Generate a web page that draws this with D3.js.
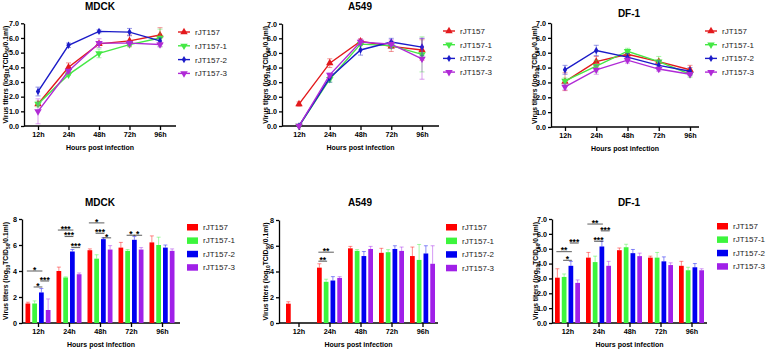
<!DOCTYPE html>
<html>
<head>
<meta charset="utf-8">
<script src="https://cdn.jsdelivr.net/npm/d3@7"></script>
<style>
body { margin: 0; background: #fff; }
text { font-family: "Liberation Sans", Arial, sans-serif; }
</style>
</head>
<body>
<div id="chart-area"></div>
<script>
// ---- data ----
var cats = ["12h", "24h", "48h", "72h", "96h"];
var seriesNames = ["rJT157", "rJT157-1", "rJT157-2", "rJT157-3"];

// rows follow seriesNames, columns follow cats
var mdckMeans = [
    [1.5, 4.0, 5.6, 5.8, 6.2],
    [1.5, 3.5, 4.95, 5.55, 6.0],
    [2.35, 5.5, 6.45, 6.4, 5.8],
    [1.0, 3.75, 5.65, 5.65, 5.55]
];
var mdckErrs = [
    [0.1, 0.3, 0.1, 0.4, 0.5],
    [0.2, 0.05, 0.3, 0.1, 0.6],
    [0.3, 0.15, 0.1, 0.25, 0.2],
    [0.85, 0.1, 0.3, 0.15, 0.15]
];
var a549Means = [
    [1.5, 4.3, 5.8, 5.45, 5.2],
    [0, 3.2, 5.6, 5.5, 4.9],
    [0, 3.3, 5.2, 5.75, 5.4],
    [0, 3.5, 5.75, 5.6, 4.6]
];
var a549Errs = [
    [0.15, 0.3, 0.15, 0.35, 0.7],
    [0, 0.2, 0.1, 0.2, 1.2],
    [0, 0.3, 0.35, 0.25, 0.6],
    [0, 0.1, 0.2, 0.3, 1.4]
];
var df1Means = [
    [3.05, 4.4, 4.9, 4.4, 3.85],
    [3.1, 4.1, 5.1, 4.4, 3.55],
    [3.85, 5.15, 4.7, 4.15, 3.75],
    [2.7, 3.85, 4.5, 3.9, 3.55]
];
var df1Errs = [
    [0.6, 0.35, 0.15, 0.1, 0.3],
    [0.2, 0.4, 0.2, 0.35, 0.2],
    [0.3, 0.35, 0.25, 0.3, 0.25],
    [0.2, 0.3, 0.2, 0.15, 0.1]
];

var ticks7 = [0, 1, 2, 3, 4, 5, 6, 7];
var ticks8 = [0, 2, 4, 6, 8];

// significance brackets: series a -> series b at a given titer
var mdckSig = [
    {cat: "12h", a: 0, b: 2, y: 4.0, label: "*"},
    {cat: "12h", a: 1, b: 2, y: 2.77, label: "*"},
    {cat: "12h", a: 2, b: 3, y: 3.23, label: "***"},
    {cat: "24h", a: 0, b: 2, y: 7.15, label: "***"},
    {cat: "24h", a: 1, b: 2, y: 6.65, label: "***"},
    {cat: "24h", a: 2, b: 3, y: 5.8, label: "***"},
    {cat: "48h", a: 0, b: 2, y: 7.7, label: "*"},
    {cat: "48h", a: 1, b: 2, y: 6.9, label: "***"},
    {cat: "48h", a: 2, b: 3, y: 6.55, label: "*"},
    {cat: "72h", a: 1, b: 2, y: 6.75, label: "*"},
    {cat: "72h", a: 2, b: 3, y: 6.75, label: "*"}
];
var a549Sig = [
    {cat: "24h", a: 0, b: 2, y: 5.5, label: "**"},
    {cat: "24h", a: 0, b: 1, y: 4.8, label: "**"}
];
var df1Sig = [
    {cat: "12h", a: 0, b: 2, y: 4.8, label: "**"},
    {cat: "12h", a: 1, b: 2, y: 4.22, label: "*"},
    {cat: "12h", a: 2, b: 3, y: 5.38, label: "***"},
    {cat: "24h", a: 0, b: 2, y: 6.66, label: "**"},
    {cat: "24h", a: 2, b: 3, y: 6.2, label: "***"},
    {cat: "24h", a: 1, b: 2, y: 5.5, label: "***"}
];

// ---- styles ----
var lineColors = ["#e3191c", "#45e845", "#1b1bc8", "#b02ad6"];
var barColors = ["#ff0000", "#3cf53c", "#0000f0", "#a020e8"];
var markerTypes = [d3.symbolTriangle, d3.symbolTriangle, d3.symbolDiamond, d3.symbolTriangle];
var markerRot = [0, 180, 0, 180];

var svg = d3.select("#chart-area").append("svg")
    .attr("width", 768)
    .attr("height", 352);

function yLabel(g, x, y) {
    var t = g.append("text")
        .attr("transform", "translate(" + x + "," + y + ") rotate(-90)")
        .attr("text-anchor", "middle")
        .attr("font-size", "6.8px")
        .attr("font-weight", "bold");
    t.append("tspan").text("Virus titers (log");
    t.append("tspan").attr("font-size", "4.8px").attr("dy", 1.5).text("10");
    t.append("tspan").attr("dy", -1.5).text("TCID");
    t.append("tspan").attr("font-size", "4.8px").attr("dy", 1.5).text("50");
    t.append("tspan").attr("dy", -1.5).text("/0.1ml)");
}

function drawFrame(p, yMax, tickVals) {
    var g = svg.append("g");
    var x = d3.scalePoint().domain(cats).range([p.first, p.last]);
    var y = d3.scaleLinear().domain([0, yMax]).range([p.yBot, p.yTop]);

    var yAxis = g.append("g")
        .attr("transform", "translate(" + p.x0 + ",0)")
        .call(d3.axisLeft(y).tickValues(tickVals).tickSize(3).tickSizeOuter(0).tickPadding(2));
    var xAxis = g.append("g")
        .attr("transform", "translate(0," + p.yBot + ")")
        .call(d3.axisBottom(x).tickSize(4).tickPadding(2));
    xAxis.select(".domain").remove();
    g.append("line")
        .attr("x1", p.x0).attr("x2", p.x1)
        .attr("y1", p.yBot).attr("y2", p.yBot)
        .attr("stroke", "#000").attr("stroke-width", 1.4);
    [yAxis, xAxis].forEach(function (a) {
        a.selectAll("path,line").attr("stroke", "#000").attr("stroke-width", 1.3);
        a.selectAll("text")
            .attr("font-size", "7.2px")
            .attr("font-weight", "bold")
            .attr("fill", "#000")
            .attr("font-family", "Liberation Sans, Arial, sans-serif");
    });

    g.append("text")
        .attr("x", p.titleX).attr("y", p.titleY)
        .attr("text-anchor", "middle")
        .attr("font-size", "10px")
        .attr("font-weight", "bold")
        .text(p.title);
    g.append("text")
        .attr("x", (p.x0 + p.x1) / 2).attr("y", p.xLabY)
        .attr("text-anchor", "middle")
        .attr("font-size", "7px")
        .attr("font-weight", "bold")
        .text("Hours post infection");
    yLabel(g, p.yLabX, (p.yTop + p.yBot) / 2);
    return {g: g, x: x, y: y};
}

function linePanel(p, means, errs) {
    var f = drawFrame(p, 7, ticks7);
    var g = f.g, x = f.x, y = f.y;
    var line = d3.line()
        .x(function (d, i) { return x(cats[i]); })
        .y(function (d) { return y(d); });

    means.forEach(function (row, s) {
        var col = lineColors[s];
        // error bars
        row.forEach(function (v, i) {
            var e = errs[s][i];
            if (e <= 0) return;
            var cx = x(cats[i]);
            g.append("line")
                .attr("x1", cx).attr("x2", cx)
                .attr("y1", y(v - e)).attr("y2", y(v + e))
                .attr("stroke", col).attr("stroke-opacity", 0.45).attr("stroke-width", 1);
            [v - e, v + e].forEach(function (w) {
                g.append("line")
                    .attr("x1", cx - 2.5).attr("x2", cx + 2.5)
                    .attr("y1", y(w)).attr("y2", y(w))
                    .attr("stroke", col).attr("stroke-opacity", 0.45).attr("stroke-width", 1);
            });
        });
        g.append("path")
            .datum(row)
            .attr("d", line)
            .attr("fill", "none")
            .attr("stroke", col)
            .attr("stroke-width", 1.4);
        g.selectAll(".m" + s)
            .data(row)
            .enter()
            .append("path")
            .attr("transform", function (d, i) {
                return "translate(" + x(cats[i]) + "," + y(d) + ") rotate(" + markerRot[s] + ")";
            })
            .attr("d", d3.symbol().type(markerTypes[s]).size(s == 2 ? 16 : 24))
            .attr("fill", col);
    });

    // legend
    seriesNames.forEach(function (n, s) {
        var ly = p.legY + s * p.legStep;
        g.append("line")
            .attr("x1", p.legX).attr("x2", p.legX + 12)
            .attr("y1", ly).attr("y2", ly)
            .attr("stroke", lineColors[s]).attr("stroke-width", 1.4);
        g.append("path")
            .attr("transform", "translate(" + (p.legX + 6) + "," + ly + ") rotate(" + markerRot[s] + ")")
            .attr("d", d3.symbol().type(markerTypes[s]).size(s == 2 ? 16 : 24))
            .attr("fill", lineColors[s]);
        g.append("text")
            .attr("x", p.legX + 17).attr("y", ly + 3)
            .attr("font-size", "8px")
            .attr("fill", "#222")
            .text(n);
    });
}

function barPanel(p, yMax, tickVals, means, errs, sig) {
    var f = drawFrame(p, yMax, tickVals);
    var g = f.g, x = f.x, y = f.y;
    var xs = d3.scaleBand().domain(seriesNames).range([-12.5, 12.5]).paddingInner(0.3);
    var bw = xs.bandwidth();

    means.forEach(function (row, s) {
        var col = barColors[s];
        g.selectAll(".b" + s)
            .data(row)
            .enter()
            .append("rect")
            .attr("x", function (d, i) { return x(cats[i]) + xs(seriesNames[s]); })
            .attr("y", function (d) { return y(d); })
            .attr("width", bw)
            .attr("height", function (d) { return p.yBot - y(d); })
            .attr("fill", col);
        row.forEach(function (v, i) {
            var e = errs[s][i];
            if (e <= 0 || v <= 0) return;
            var cx = x(cats[i]) + xs(seriesNames[s]) + bw / 2;
            g.append("line")
                .attr("x1", cx).attr("x2", cx)
                .attr("y1", y(v)).attr("y2", y(v + e))
                .attr("stroke", col).attr("stroke-opacity", 0.45).attr("stroke-width", 1);
            g.append("line")
                .attr("x1", cx - 2).attr("x2", cx + 2)
                .attr("y1", y(v + e)).attr("y2", y(v + e))
                .attr("stroke", col).attr("stroke-opacity", 0.45).attr("stroke-width", 1);
        });
    });

    // significance
    sig.forEach(function (d) {
        var xa = x(d.cat) + xs(seriesNames[d.a]) + bw / 2 - 1;
        var xb = x(d.cat) + xs(seriesNames[d.b]) + bw / 2 + 1;
        g.append("line")
            .attr("x1", xa).attr("x2", xb)
            .attr("y1", y(d.y)).attr("y2", y(d.y))
            .attr("stroke", "#333").attr("stroke-width", 0.8);
        g.append("text")
            .attr("x", (xa + xb) / 2).attr("y", y(d.y) + 1.8)
            .attr("text-anchor", "middle")
            .attr("font-size", "8.5px")
            .attr("font-weight", "bold")
            .text(d.label);
    });

    // legend
    seriesNames.forEach(function (n, s) {
        var ly = p.legY + s * p.legStep;
        g.append("rect")
            .attr("x", p.legX).attr("y", ly - 3)
            .attr("width", 11).attr("height", 6.5)
            .attr("fill", barColors[s]);
        g.append("text")
            .attr("x", p.legX + 16).attr("y", ly + 3)
            .attr("font-size", "8px")
            .attr("fill", "#222")
            .text(n);
    });
}

// ---- layout ----
linePanel({title: "MDCK", titleX: 100, titleY: 10, x0: 24, x1: 176, first: 38, last: 160,
    yTop: 23.3, yBot: 126, xLabY: 150, yLabX: 7.5, legX: 178, legY: 32, legStep: 13.8}, mdckMeans, mdckErrs);
linePanel({title: "A549", titleX: 360, titleY: 10, x0: 282, x1: 439, first: 299, last: 422,
    yTop: 23.7, yBot: 126, xLabY: 150, yLabX: 268, legX: 443, legY: 31, legStep: 13.7}, a549Means, a549Errs);
linePanel({title: "DF-1", titleX: 629, titleY: 17, x0: 551, x1: 699, first: 565, last: 690,
    yTop: 23, yBot: 127, xLabY: 151, yLabX: 537, legX: 705, legY: 31, legStep: 13.7}, df1Means, df1Errs);

barPanel({title: "MDCK", titleX: 100, titleY: 206, x0: 22, x1: 180, first: 38, last: 162,
    yTop: 219, yBot: 323, xLabY: 347, yLabX: 8, legX: 187, legY: 227, legStep: 13.4}, 8, ticks8, mdckMeans, mdckErrs, mdckSig);
barPanel({title: "A549", titleX: 360, titleY: 206, x0: 279, x1: 438, first: 298.5, last: 422.5,
    yTop: 220, yBot: 323, xLabY: 347, yLabX: 268, legX: 446, legY: 227, legStep: 13.6}, 8, ticks8, a549Means, a549Errs, a549Sig);
barPanel({title: "DF-1", titleX: 629, titleY: 206, x0: 552, x1: 707, first: 567.5, last: 691.5,
    yTop: 219, yBot: 323, xLabY: 347, yLabX: 538, legX: 717, legY: 226, legStep: 13.4}, 7, ticks7, df1Means, df1Errs, df1Sig);
</script>
</body>
</html>
